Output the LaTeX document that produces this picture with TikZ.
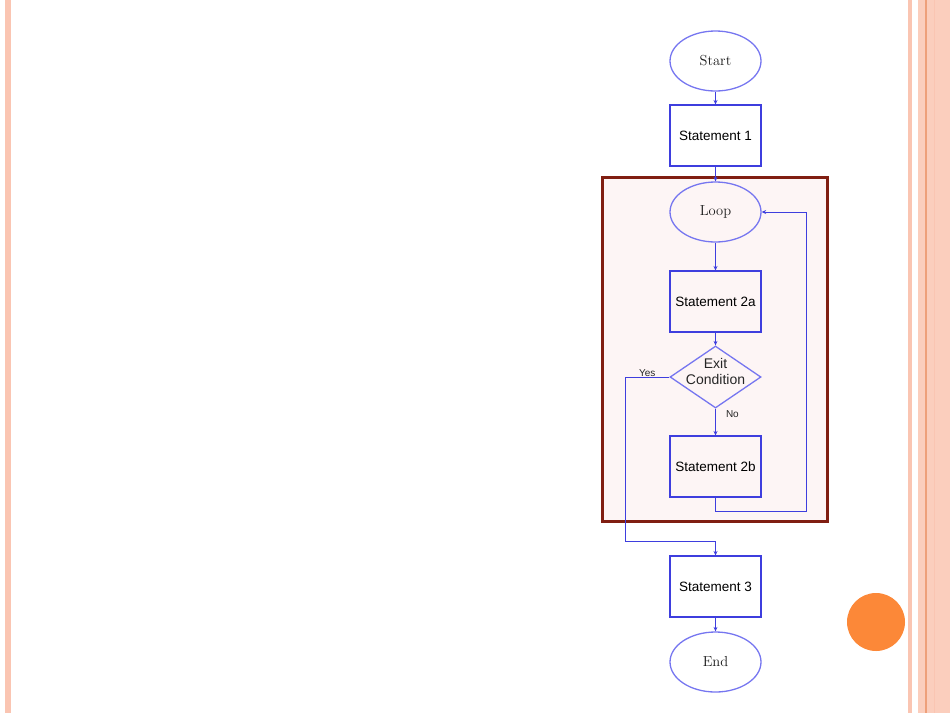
\documentclass[tikz,border=0pt]{standalone}
\usepackage{fontspec}
\newfontfamily\arialfont{Liberation Sans}
\usepackage{xcolor}
\usepackage{tikz}
\usetikzlibrary{shapes.geometric,arrows.meta,positioning,calc}

\definecolor{flowblue}{RGB}{62,62,222}
\definecolor{ellblue}{RGB}{118,118,240}
\definecolor{framered}{RGB}{128,30,18}
\definecolor{framefill}{RGB}{253,245,245}
\definecolor{stripe}{RGB}{250,197,178}
\definecolor{stripeline}{RGB}{238,160,122}
\definecolor{dotorange}{RGB}{252,136,56}

\begin{document}
\begin{tikzpicture}[x=1pt, y=-1pt,
		stmt/.style={draw=flowblue, line width=1.1pt, minimum width=91, minimum height=61, inner sep=0, font=\arialfont\fontsize{13.5}{16}\selectfont},
		terminal/.style={ellipse, draw=ellblue, line width=1.3pt, minimum width=91, minimum height=60, inner sep=0, text=black!90, font=\fontsize{14.5}{16}\selectfont},
		decision/.style={diamond, draw=ellblue, line width=1.3pt, minimum width=91, minimum height=62, inner sep=0},
		flow/.style={draw=flowblue, line width=1pt, -{Stealth[length=4.5pt,width=4pt]}},
		lbl/.style={inner sep=1pt, text=black!85, font=\arialfont\fontsize{10}{12}\selectfont}]
		\useasboundingbox (0,0) rectangle (950,713);

		\fill[stripe] (5,0) rectangle (11,713);
		\fill[stripe] (908,0) rectangle (912,713);
		\fill[stripe!85] (918,0) rectangle (950,713);
		\fill[stripeline] (925,0) rectangle (927,713);
		\fill[stripe] (934,0) rectangle (935,713);
		\fill[dotorange] (876,622) circle (29pt);

		\draw[framered, line width=3pt, fill=framefill] (602,177) rectangle (827,521);

		\node[terminal] (start) at (715.5,61) {Start};
		\node[stmt] (s1) at (715.5,135.5) {Statement 1};
		\node[terminal] (loop) at (715.5,212) {Loop};
		\node[stmt] (s2a) at (715.5,301.5) {Statement 2a};
		\node[decision, label={[align=center, yshift=6pt, font=\arialfont\fontsize{14}{16}\selectfont, text=black!85]center:Exit\\Condition}] (cond) at (715.5,377) {};
		\node[stmt] (s2b) at (715.5,466.5) {Statement 2b};
		\node[stmt] (s3) at (715.5,586.5) {Statement 3};
		\node[terminal] (end) at (715.5,662) {End};

		\coordinate (back) at (806,511);
		\coordinate (yes) at (625,541);

		\draw[flow] (start) -- (s1);
		\draw[flow] (s1) -- (loop);
		\draw[flow] (loop) -- (s2a);
		\draw[flow] (s2a) -- (cond);
		\draw[flow] (cond) -- node[lbl, pos=0.2, right=9pt] {No} (s2b);
		\draw[flow] (s2b.south) |- (back) |- (loop.east);
		\draw[flow] (cond.west) -| node[lbl, pos=0.25, above=-1pt] {Yes} (yes) -| (s3.north);
		\draw[flow] (s3) -- (end);
	\end{tikzpicture}
\end{document}
